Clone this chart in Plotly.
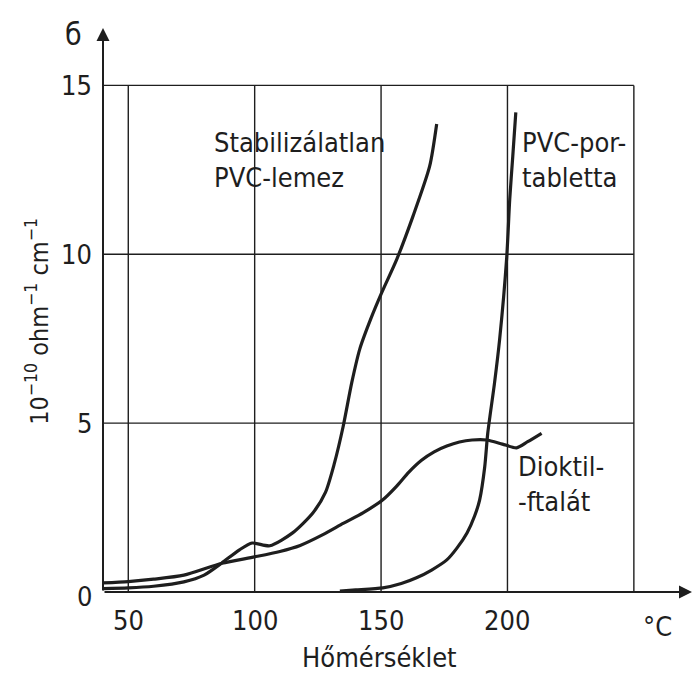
import plotly.graph_objects as go

# Data
lemez_x = [40, 50, 60, 72, 80, 87, 94, 99, 106, 115, 123, 128, 131.5, 135, 138.4, 141.6, 146, 150.3, 156.2, 162.5, 169.2, 172]
lemez_y = [0.10, 0.12, 0.17, 0.30, 0.50, 0.86, 1.25, 1.45, 1.37, 1.75, 2.34, 2.95, 3.8, 4.9, 6.2, 7.2, 8.1, 8.87, 9.85, 11.1, 12.6, 13.86]

dioktil_x = [40, 50, 60, 72, 87, 100, 110, 118, 127, 135, 143, 150.7, 156, 161, 166, 171, 176, 181, 186, 191.8, 198, 203.6, 208, 213.5]
dioktil_y = [0.27, 0.31, 0.38, 0.50, 0.85, 1.04, 1.20, 1.38, 1.70, 2.03, 2.35, 2.73, 3.12, 3.55, 3.9, 4.15, 4.32, 4.44, 4.5, 4.5, 4.38, 4.27, 4.45, 4.7]

tabletta_x = [133.7, 140, 150.7, 158, 164, 170, 176, 180, 184, 187, 189, 191, 192.2, 194.9, 196.9, 199.7, 200.9, 202.1, 203.3]
tabletta_y = [0.03, 0.06, 0.12, 0.25, 0.42, 0.65, 0.95, 1.3, 1.75, 2.25, 2.73, 3.7, 4.7, 6.2, 7.48, 9.91, 11.63, 12.9, 14.2]

x_ticks = [50, 100, 150, 200]
x_grid = [50, 100, 150, 200, 250]
y_ticks = [0, 5, 10, 15]
y_grid = [5, 10, 15]

X_MIN, X_MAX, X_ARROW = 40, 273, 273
Y_MIN, Y_MAX, Y_ARROW = 0, 16.7, 16.7

INK = "#1e1e1e"
FONT = "DejaVu Sans Condensed, Liberation Sans Narrow, Roboto Condensed, Roboto, sans-serif"

fig = go.Figure()
for xs, ys in [(lemez_x, lemez_y), (dioktil_x, dioktil_y), (tabletta_x, tabletta_y)]:
    fig.add_trace(go.Scatter(x=xs, y=ys, mode="lines",
                             line=dict(color=INK, width=3.2, shape="spline", smoothing=0.7),
                             showlegend=False, hoverinfo="skip"))

shapes = []
for gx in x_grid:
    shapes.append(dict(type="line", xref="x", yref="y", x0=gx, x1=gx, y0=0, y1=max(y_grid),
                       line=dict(color=INK, width=1.4), layer="below"))
for gy in y_grid:
    shapes.append(dict(type="line", xref="x", yref="y", x0=X_MIN, x1=max(x_grid), y0=gy, y1=gy,
                       line=dict(color=INK, width=1.4), layer="below"))

ann = []
# axis arrows
ann.append(dict(x=X_ARROW, y=0, ax=X_MIN, ay=0, xref="x", yref="y", axref="x", ayref="y",
                showarrow=True, arrowhead=2, arrowsize=1.3, arrowwidth=2, arrowcolor=INK, text=""))
ann.append(dict(x=X_MIN, y=Y_ARROW, ax=X_MIN, ay=0, xref="x", yref="y", axref="x", ayref="y",
                showarrow=True, arrowhead=2, arrowsize=1.3, arrowwidth=2, arrowcolor=INK, text=""))
# tick labels
for t in x_ticks:
    ann.append(dict(x=t, y=0, xref="x", yref="y", text=str(t), showarrow=False,
                    yshift=-28, font=dict(size=27, color=INK, family=FONT)))
for t in y_ticks:
    ann.append(dict(x=X_MIN, y=t, xref="x", yref="y", text=str(t), showarrow=False,
                    xanchor="right", xshift=-9, yshift=(-4 if t == 0 else 0),
                    font=dict(size=27, color=INK, family=FONT)))
# texts
lab = dict(size=27, color=INK, family=FONT)
ann += [
    dict(x=X_MIN, y=Y_ARROW, xref="x", yref="y", text="б", showarrow=False, xshift=-30, yshift=-6,
         font=dict(size=30, color=INK, family=FONT)),
    dict(x=X_MAX, y=0, xref="x", yref="y", text="°C", showarrow=False, xshift=-35, yshift=-34,
         font=dict(size=27, color=INK, family=FONT)),
    dict(x=0.47, y=0, xref="paper", yref="y", text="Hőmérséklet", showarrow=False, yshift=-65,
         font=lab),
    dict(x=0, y=0.479, xref="paper", yref="paper", text="10<sup>−10</sup> ohm<sup>−1</sup> cm<sup>−1</sup>",
         showarrow=False, textangle=-90, xanchor="center", yanchor="middle", xshift=-65,
         font=dict(size=25, color=INK, family=FONT)),
    dict(x=83, y=12.8, xref="x", yref="y", text="Stabilizálatlan<br>PVC-lemez", showarrow=False,
         xanchor="left", align="left", font=lab),
    dict(x=205, y=12.8, xref="x", yref="y", text="PVC-por-<br>tabletta", showarrow=False,
         xanchor="left", align="left", font=lab),
    dict(x=203.5, y=3.2, xref="x", yref="y", text="Dioktil-<br>-ftalát", showarrow=False,
         xanchor="left", align="left", font=lab),
]

fig.update_layout(
    width=700, height=674,
    margin=dict(l=103, r=8, t=28, b=82),
    paper_bgcolor="white", plot_bgcolor="white",
    xaxis=dict(range=[X_MIN, X_MAX], showgrid=False, zeroline=False, showticklabels=False,
               showline=False, ticks=""),
    yaxis=dict(range=[Y_MIN, Y_MAX], showgrid=False, zeroline=False, showticklabels=False,
               showline=False, ticks=""),
    shapes=shapes, annotations=ann,
)
fig.write_html("out.html")
